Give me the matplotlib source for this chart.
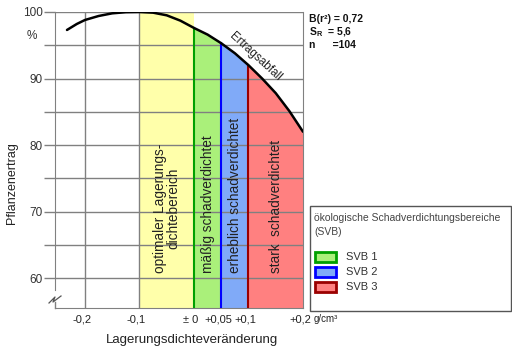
import matplotlib
matplotlib.use("Agg")
import matplotlib.pyplot as plt
from matplotlib.patches import Rectangle
from matplotlib.lines import Line2D
import matplotlib.transforms as mtransforms
import numpy as np

plt.rcParams['font.family'] = ['Liberation Sans', 'DejaVu Sans']

# --- data ---
curve_x = [-0.233, -0.215, -0.2, -0.175, -0.15, -0.125, -0.1, -0.075, -0.05, -0.025,
           0.0, 0.025, 0.05, 0.075, 0.1, 0.125, 0.15, 0.175, 0.2]
curve_y = [97.3, 98.2, 98.8, 99.4, 99.8, 99.97, 100.0, 99.9, 99.5, 98.7,
           97.6, 96.6, 95.3, 93.8, 92.0, 90.0, 87.8, 85.1, 82.0]

zone_edges = [-0.1, 0.0, 0.05, 0.1, 0.2]
zone_labels = ["optimaler Lagerungs-\ndichtebereich", "mäßig schadverdichtet",
               "erheblich schadverdichtet", "stark  schadverdichtet"]
zone_fill = ["#FFFFAA", "#AAF07A", "#80AAF8", "#FF8080"]
zone_edge = [None, "#00A000", "#0000FF", "#9A0000"]

xtick_vals = [-0.2, -0.1, 0.0, 0.05, 0.1, 0.2]
xtick_labels = ["-0,2", "-0,1", "± 0", "+0,05", "+0,1", "+0,2"]
ytick_major = [60, 70, 80, 90, 100]
ytick_all = [60, 65, 70, 75, 80, 85, 90, 95, 100]

legend_labels = ["SVB 1", "SVB 2", "SVB 3"]
stats = ["B(r²) = 0,72", "S$_{\\mathregular{R}}$  = 5,6", "n      =104"]

W, H = 512, 352
fig = plt.figure(figsize=(W/100, H/100), dpi=100)
ax = fig.add_axes([55/W, 1-308/H, (303-55)/W, (308-12)/H])
ax.set_xlim(-0.255, 0.2)
ax.set_ylim(55.5, 100)

grid_c = "#808080"
for yv in ytick_all:
    ax.axhline(yv, color=grid_c, lw=1.0, zorder=3)
for xv in [-0.2, -0.1]:
    ax.axvline(xv, color=grid_c, lw=1.0, zorder=1)

cx = np.array(curve_x)
cy = np.array(curve_y)
ax.axvspan(zone_edges[0], zone_edges[1], color=zone_fill[0], lw=0, zorder=0.5)
for i in range(1, 4):
    a, b = zone_edges[i], zone_edges[i+1]
    m = (cx >= a - 1e-9) & (cx <= b + 1e-9)
    ax.fill_between(cx[m], 55.5, cy[m], color=zone_fill[i], lw=0, zorder=0.6)
    ya = np.interp(a, cx, cy)
    ax.plot([a, a], [55.5, ya], color=zone_edge[i], lw=1.5, zorder=4)

ax.plot(cx, cy, color="black", lw=1.8, zorder=5, solid_capstyle='round')

lab_x = [-0.05, 0.025, 0.075, 0.15]
for xv, t in zip(lab_x, zone_labels):
    ax.text(xv, 60.75, t, rotation=90, ha='center', va='bottom', fontsize=9.8,
            color="#222222", linespacing=1.0, zorder=6)

ax.text(0.112, 93.3, "Ertragsabfall", rotation=-42.5, rotation_mode='anchor',
        ha='center', va='center', fontsize=8.5, color="#222222", zorder=6)

ax.spines['top'].set_visible(False)
ax.spines['right'].set_color(grid_c)
ax.spines['left'].set_color(grid_c)
ax.spines['bottom'].set_color(grid_c)
ax.spines['left'].set_bounds(58.2, 100)

ax.set_yticks(ytick_all)
ax.set_yticklabels([str(v) if v in ytick_major else "" for v in ytick_all])
ax.tick_params(axis='y', length=8, width=1.0, color=grid_c, labelsize=8.5,
               labelcolor="#333333", pad=1)
ax.set_xticks(xtick_vals)
ax.set_xticklabels(xtick_labels)
ax.tick_params(axis='x', length=0, labelsize=8, labelcolor="#222222", pad=5)
shift = mtransforms.ScaledTranslation(-3/100, 0, fig.dpi_scale_trans)
for lbl in ax.get_xticklabels():
    lbl.set_transform(lbl.get_transform() + shift)

# break symbol
zx = np.array([49, 55, 53, 61]) / W
zy = 1 - np.array([303, 297, 302, 296]) / H
fig.add_artist(Line2D(zx, zy, color="#555555", lw=0.9))
fig.add_artist(Line2D([55/W, 55/W], [1-308/H, 1-302/H], color=grid_c, lw=1.0))

fig.text(32/W, 1-36/H, "%", ha='center', va='center', fontsize=8.5, color="#333333")
fig.text(314/W, 1-319/H, "g/cm³", ha='left', va='center', fontsize=7, color="#222222")
fig.text(12/W, 1-183/H, "Pflanzenertrag", rotation=90, ha='center', va='center',
         fontsize=9, color="#222222")
fig.text(192/W, 1-340/H, "Lagerungsdichteveränderung", ha='center', va='center',
         fontsize=9.5, color="#222222")

for i, s in enumerate(stats):
    fig.text(309/W, 1-(19 + 13*i)/H, s, ha='left', va='center', fontsize=7.5,
             fontweight='bold', color="#111111")

# legend box
fig.add_artist(Rectangle((310/W, 1-311/H), (511-310)/W, (311-206)/H,
                         transform=fig.transFigure, fill=False, edgecolor="#555555", lw=1.0))
fig.text(314/W, 1-218/H, "ökologische Schadverdichtungsbereiche", ha='left', va='center',
         fontsize=7.5, color="#444444")
fig.text(314/W, 1-232/H, "(SVB)", ha='left', va='center', fontsize=7.5, color="#444444")
for i, lab in enumerate(legend_labels):
    yc = 257 + 15*i
    fig.add_artist(Rectangle((315/W, 1-(yc+5)/H), 21/W, 10/H, transform=fig.transFigure,
                             facecolor=zone_fill[i+1], edgecolor=zone_edge[i+1], lw=2))
    fig.text(346/W, 1-yc/H, lab, ha='left', va='center', fontsize=8, color="#333333")

fig.savefig("out.png", dpi=100)
